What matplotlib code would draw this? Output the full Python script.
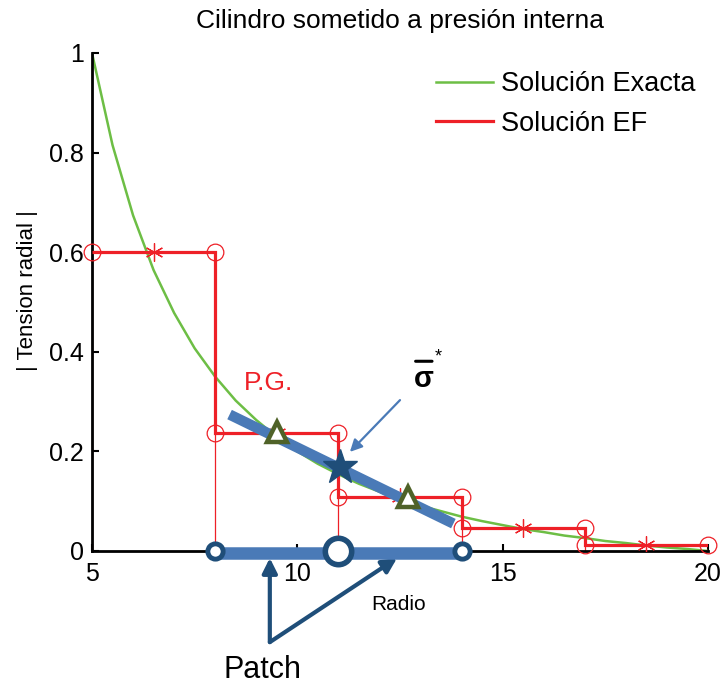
import matplotlib
matplotlib.use('Agg')
import matplotlib.pyplot as plt

plt.rcParams['font.family'] = ['Liberation Sans', 'DejaVu Sans']

# exact solution
r_exact = [5.0, 5.5, 6.0, 6.5, 7.0, 7.5, 8.0, 8.5, 9.0, 9.5, 10.0, 10.5, 11.0,
           11.5, 12.0, 12.5, 13.0, 13.5, 14.0, 14.5, 15.0, 15.5, 16.0, 16.5,
           17.0, 17.5, 18.0, 18.5, 19.0, 19.5, 20.0]
sig_exact = [1.0, 0.815, 0.674, 0.564, 0.478, 0.407, 0.350, 0.302, 0.263,
             0.229, 0.200, 0.175, 0.154, 0.135, 0.119, 0.104, 0.091, 0.080,
             0.069, 0.060, 0.052, 0.044, 0.038, 0.031, 0.026, 0.020, 0.016,
             0.011, 0.007, 0.004, 0.0]

# finite element solution (constant per element)
nodes = [5, 8, 11, 14, 17, 20]
sig_fe = [0.6, 0.237, 0.108, 0.046, 0.013]
gauss_x = [6.5, 9.5, 12.5, 15.5, 18.5]

# patch recovery sketch
patch_nodes = [8, 11, 14]
pg_x = [9.5, 12.7]
pg_y = [0.239, 0.108]
fit_x = [8.35, 13.8]
fit_y = [0.274, 0.055]
star_x = [11.04]
star_y = [0.169]

green = '#6DBE45'
red = '#EE2027'
steel = '#4A7AB7'
navy = '#1F4E79'
olive = '#4F6228'

fig = plt.figure(figsize=(7.25, 6.85), dpi=100)
ax = fig.add_axes([92 / 725, 134 / 685, 616 / 725, 498 / 685])

ax.plot(r_exact, sig_exact, color=green, lw=1.8, label='Solución Exacta')

# FE: thin node lines, thick steps, markers
lows = [sig_fe[0]] + [min(a, b) for a, b in zip(sig_fe[:-1], sig_fe[1:])] + [sig_fe[-1]]
ax.vlines(nodes, 0, lows, color=red, lw=0.9, zorder=2)
ax.stairs(sig_fe, nodes, baseline=None, color=red, lw=2.3, zorder=3)
ax.plot([], [], color=red, lw=2.3, label='Solución EF')
for i, v in enumerate(sig_fe):
    ax.plot([nodes[i], nodes[i + 1]], [v, v], ls='none', marker='o', ms=12,
            mfc='none', mec=red, mew=0.9, clip_on=False, zorder=3)
ax.plot(gauss_x, sig_fe, ls='none', marker=(6, 2, 0), ms=13, mec=red,
        mew=0.9, zorder=3)

# recovered line over the patch
ax.plot(fit_x, fit_y, color=steel, lw=7.5, solid_capstyle='butt', zorder=5)
ax.plot(pg_x, pg_y, ls='none', marker='^', ms=15, mfc='white', mec=olive,
        mew=3.2, zorder=6)
ax.plot(star_x, star_y, ls='none', marker='*', ms=26, color=navy, zorder=7)

# patch on the radius axis
ax.plot([patch_nodes[0], patch_nodes[-1]], [-0.004, -0.004], color=steel,
        lw=9, solid_capstyle='butt', clip_on=False, zorder=5)
ax.plot([patch_nodes[0], patch_nodes[-1]], [0, 0], ls='none', marker='o',
        ms=11, mfc='white', mec=navy, mew=3.5, clip_on=False, zorder=6)
ax.plot(patch_nodes[1], 0, ls='none', marker='o', ms=19, mfc='white',
        mec=navy, mew=4, clip_on=False, zorder=6)

ax.text(9.3, 0.338, 'P.G.', color=red, fontsize=19, ha='center', va='center')
# sigma bar-star label
ax.text(13.08, 0.345, 'σ', fontsize=21, fontweight='bold', ha='center',
        va='center')
ax.annotate('', xy=(13.28, 0.381), xytext=(12.88, 0.381),
            arrowprops=dict(arrowstyle='-', color='black', lw=2.2,
                            shrinkA=0, shrinkB=0))
ax.text(13.42, 0.39, '*', fontsize=13, ha='center', va='center')
ax.annotate('', xy=(11.28, 0.199), xytext=(12.5, 0.303),
            arrowprops=dict(arrowstyle='-|>', color=steel, lw=1.6,
                            mutation_scale=18, shrinkA=0, shrinkB=0), zorder=8)

for tip_x in [9.33, 12.43]:
    ax.annotate('', xy=(tip_x, -0.014), xytext=(9.33, -0.183),
                arrowprops=dict(arrowstyle='-|>', color=navy, lw=3,
                                mutation_scale=22, shrinkA=0, shrinkB=0),
                annotation_clip=False)
ax.text(9.14, -0.238, 'Patch', fontsize=22, ha='center', va='center')
ax.text(12.47, -0.108, 'Radio', fontsize=15, ha='center', va='center')

ax.set_xlim(5, 20)
ax.set_ylim(0, 1)
ax.set_xticks([5, 10, 15, 20])
ax.set_xticklabels(['5', '10', '15', '20'])
ax.set_yticks([0, 0.2, 0.4, 0.6, 0.8, 1])
ax.set_yticklabels(['0', '0.2', '0.4', '0.6', '0.8', '1'])
ax.tick_params(direction='in', length=5, width=1.5, labelsize=18)
ax.tick_params(axis='x', pad=8)
ax.tick_params(axis='y', pad=6)
for s in ['top', 'right']:
    ax.spines[s].set_visible(False)
for s in ['left', 'bottom']:
    ax.spines[s].set_linewidth(2)
ax.set_ylabel('| Tension radial |', fontsize=16)
ax.yaxis.set_label_coords(-0.088, 0.522)

fig.text(400 / 725, 1 - 21 / 685, 'Cilindro sometido a presión interna',
         fontsize=19, ha='center', va='center')
ax.legend(loc='upper left', bbox_to_anchor=(436 / 725, 1 - 71 / 685),
          bbox_transform=fig.transFigure, frameon=False, fontsize=19.5,
          handlelength=2.1, handletextpad=0.3, labelspacing=0.5,
          borderpad=0, borderaxespad=0)

fig.savefig('out.png', dpi=100)
